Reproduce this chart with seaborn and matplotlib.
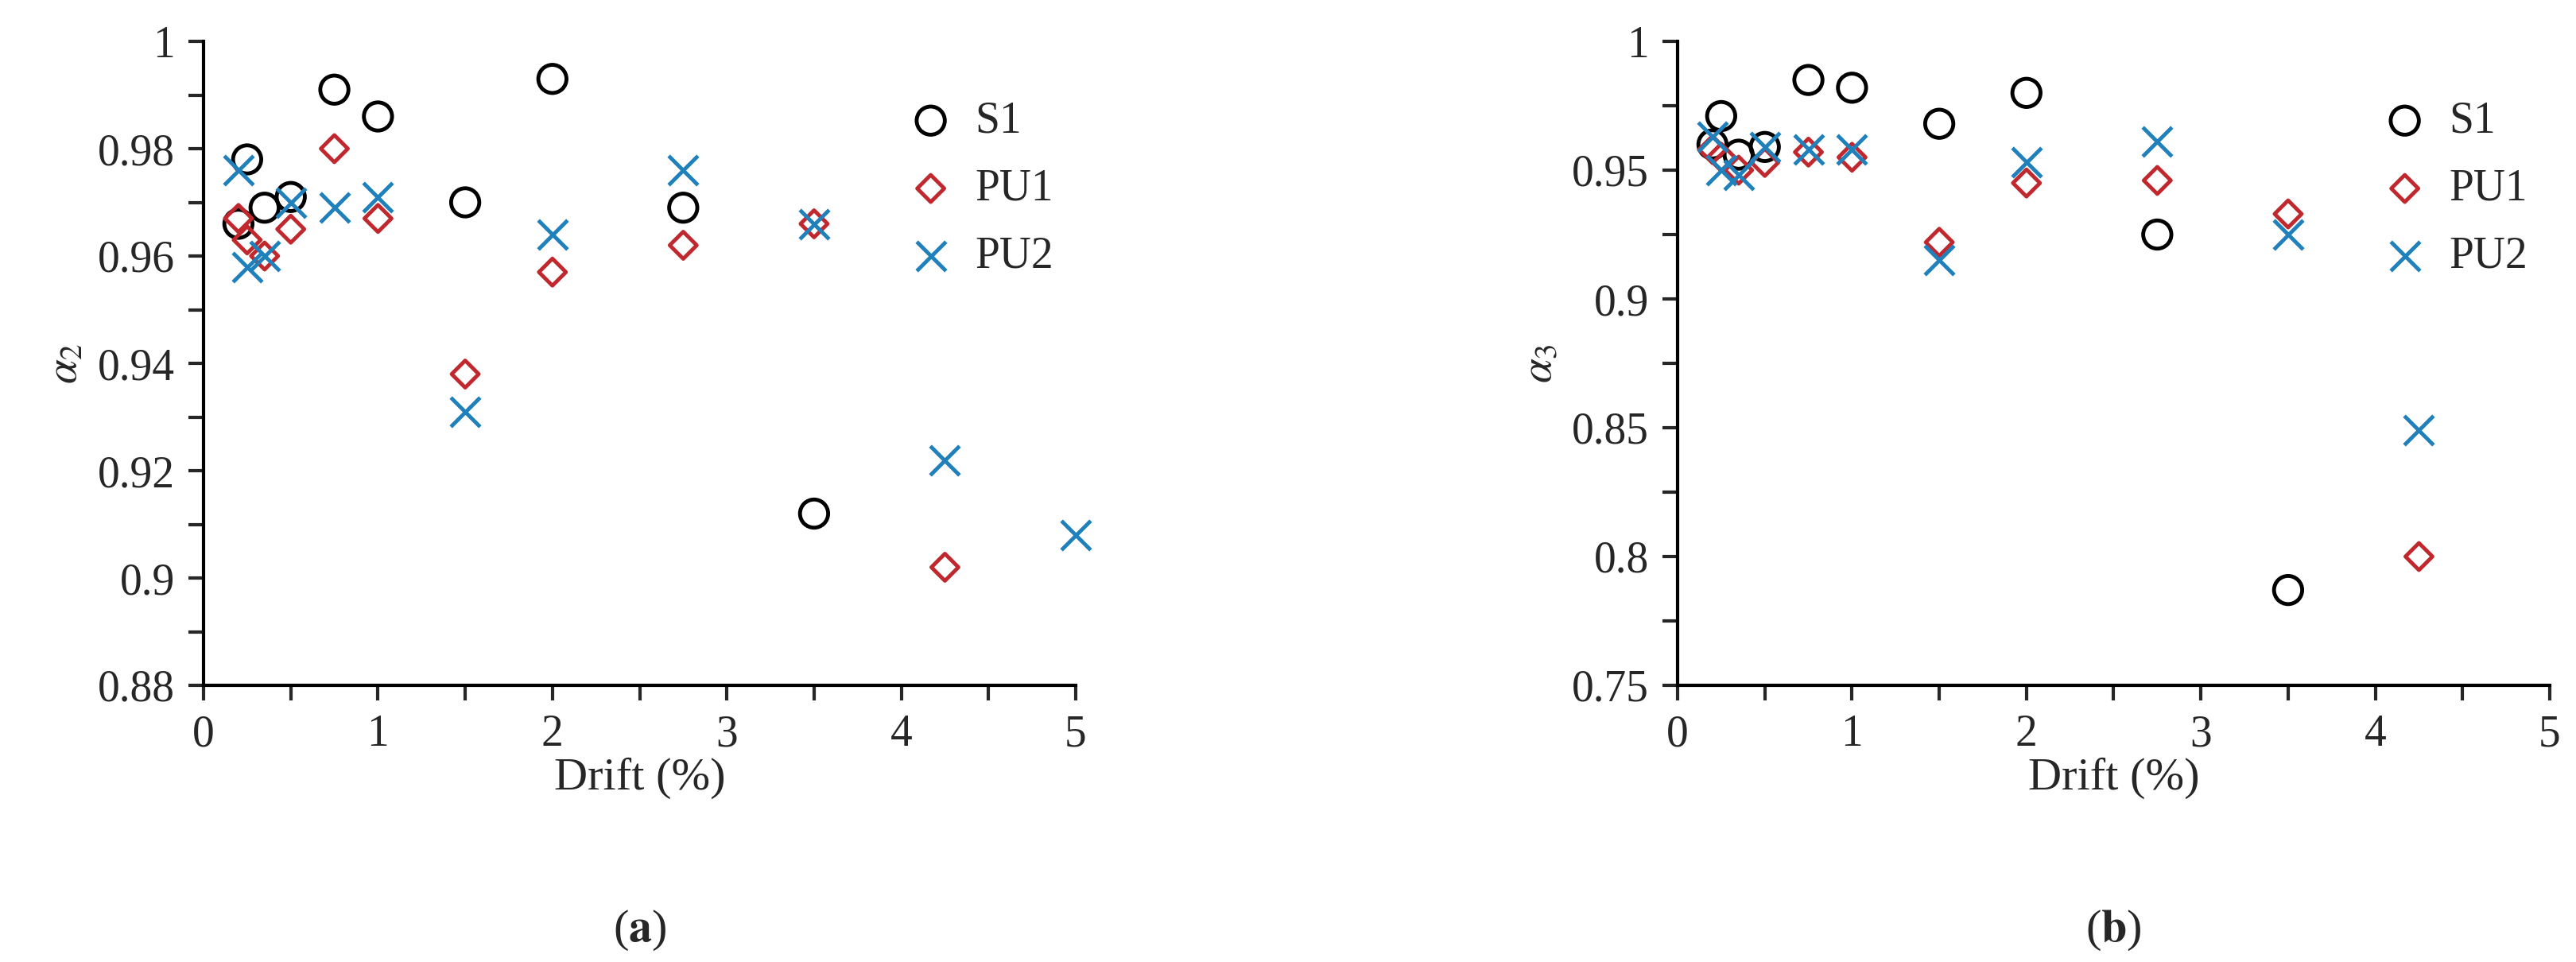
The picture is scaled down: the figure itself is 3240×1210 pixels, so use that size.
import numpy as np
import pandas as pd
import matplotlib
matplotlib.use("Agg")
import matplotlib.pyplot as plt
from matplotlib.ticker import MultipleLocator, FuncFormatter
import seaborn as sns

sns.set_style("white")
plt.rcParams['font.family'] = ['Liberation Serif', 'DejaVu Serif']
plt.rcParams['mathtext.fontset'] = 'stix'

drift = [0.2, 0.25, 0.35, 0.5, 0.75, 1.0, 1.5, 2.0, 2.75, 3.5, 4.25, 5.0]

a2_S1 = [0.966, 0.978, 0.969, 0.971, 0.991, 0.986, 0.970, 0.993, 0.969, 0.912]
a2_PU1 = [0.967, 0.963, 0.960, 0.965, 0.980, 0.967, 0.938, 0.957, 0.962, 0.966, 0.902]
a2_PU2 = [0.976, 0.958, 0.960, 0.970, 0.969, 0.971, 0.931, 0.964, 0.976, 0.966, 0.922, 0.908]

a3_S1 = [0.960, 0.971, 0.956, 0.959, 0.985, 0.982, 0.968, 0.980, 0.925, 0.787]
a3_PU1 = [0.958, 0.955, 0.950, 0.953, 0.957, 0.955, 0.922, 0.945, 0.946, 0.933, 0.800]
a3_PU2 = [0.963, 0.950, 0.948, 0.959, 0.958, 0.958, 0.915, 0.953, 0.961, 0.925, 0.849]

series = ['S1', 'PU1', 'PU2']
colors = {'S1': 'black', 'PU1': '#C0282E', 'PU2': '#1F80BC'}

def make_df(vals):
    rows = []
    for name, v in zip(series, vals):
        for x, y in zip(drift[:len(v)], v):
            rows.append((x, y, name))
    return pd.DataFrame(rows, columns=['Drift', 'val', 'Specimen'])

df2 = make_df([a2_S1, a2_PU1, a2_PU2])
df3 = make_df([a3_S1, a3_PU1, a3_PU2])

fig = plt.figure(figsize=(32.41, 12.10), dpi=100)
W, H = 3241, 1210
axA = fig.add_axes([256 / W, 1 - 862 / H, 1097 / W, 810 / H])
axB = fig.add_axes([2110 / W, 1 - 862 / H, 1097 / W, 810 / H])

def fmt(v, p):
    return ('%.3f' % v).rstrip('0').rstrip('.')

def draw(ax, df, ylim, major, minor, ylabel, panel):
    for name, mk in zip(series, ['o', 'D', 'x']):
        sub = df[df['Specimen'] == name]
        if mk == 'x':
            sns.scatterplot(data=sub, x='Drift', y='val', ax=ax, marker='x', s=700,
                            color=colors[name], linewidth=3.5, label=name, clip_on=False)
        else:
            sns.scatterplot(data=sub, x='Drift', y='val', ax=ax, marker=mk,
                            s=650 if mk == 'o' else 300,
                            facecolor='none', edgecolor=colors[name], linewidth=3.5,
                            label=name, clip_on=False)
    ax.set_xlim(0, 5)
    ax.set_ylim(*ylim)
    ax.xaxis.set_major_locator(MultipleLocator(1))
    ax.xaxis.set_minor_locator(MultipleLocator(0.5))
    ax.yaxis.set_major_locator(MultipleLocator(major))
    ax.yaxis.set_minor_locator(MultipleLocator(minor))
    ax.yaxis.set_major_formatter(FuncFormatter(fmt))
    for s in ['top', 'right']:
        ax.spines[s].set_visible(False)
    for s in ['left', 'bottom']:
        ax.spines[s].set_linewidth(3)
        ax.spines[s].set_color('black')
    ax.tick_params(which='both', direction='out', width=3, length=14, labelsize=40,
                   left=True, bottom=True, pad=12)
    ax.set_xlabel('Drift (%)', fontsize=42, labelpad=2)
    ax.set_ylabel(ylabel, fontsize=40, labelpad=10)
    ax.grid(False)
    ax.legend(loc='upper right', bbox_to_anchor=(1.02, 0.97), frameon=False,
              fontsize=40, handletextpad=0.0, labelspacing=0.6)
    ax.text(0.5, -0.38, '($\\mathbf{%s}$)' % panel, transform=ax.transAxes,
            ha='center', va='center', fontsize=42)

draw(axA, df2, (0.88, 1.0), 0.02, 0.01, r'$\alpha_2$', 'a')
draw(axB, df3, (0.75, 1.0), 0.05, 0.025, r'$\alpha_3$', 'b')

fig.savefig('out.png', dpi=100, facecolor='white')
